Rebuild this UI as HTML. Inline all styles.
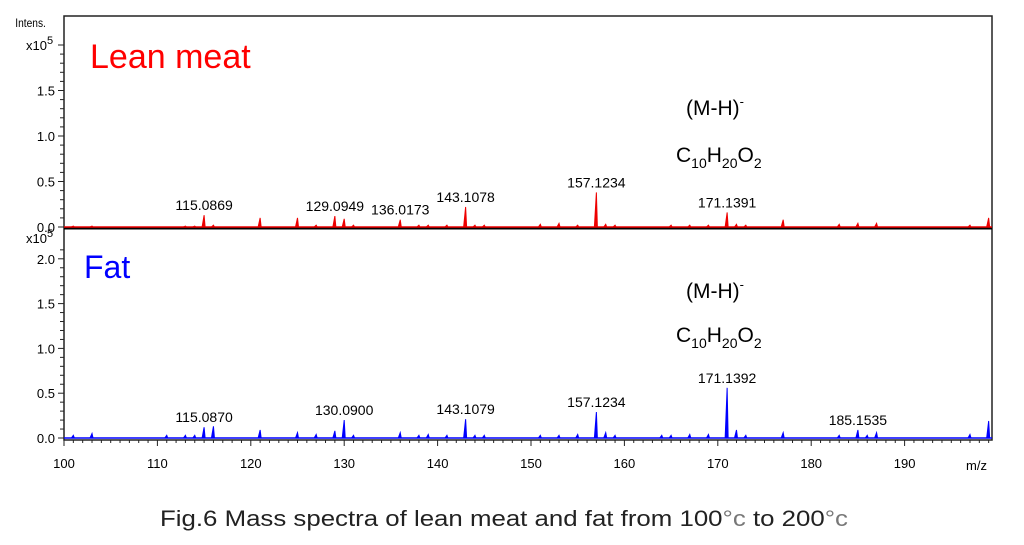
<!DOCTYPE html>
<html><head><meta charset="utf-8"><style>
body{margin:0;background:#fff;width:1024px;height:540px;overflow:hidden}
svg text{font-family:"Liberation Sans",sans-serif}
</style></head><body>
<svg width="1024" height="540">
<g id="frame">
<rect x="64" y="16" width="928" height="424" fill="none" stroke="#222" stroke-width="1.5"/>
<line x1="64" y1="228" x2="992" y2="228" stroke="#000" stroke-width="3"/>
</g>
<g id="axes"></g>
<g id="peaks"></g>
<g id="labels"></g>
<text x="18" y="27" font-size="12" transform="scale(0.85,1)">Intens.</text>
<text x="26" y="50" font-size="13">x10<tspan dy="-6" font-size="11">5</tspan></text>
<text x="26" y="243" font-size="13">x10<tspan dy="-6" font-size="11">5</tspan></text>
<text x="90" y="68" font-size="34" fill="#f00">Lean meat</text>
<text x="84" y="278" font-size="32" fill="#00f">Fat</text>
<text x="686" y="115" font-size="21">(M-H)<tspan dy="-9" font-size="13">-</tspan></text>
<text x="676" y="162" font-size="21">C<tspan dy="6" font-size="14">10</tspan><tspan dy="-6">H</tspan><tspan dy="6" font-size="14">20</tspan><tspan dy="-6">O</tspan><tspan dy="6" font-size="14">2</tspan></text>
<text x="686" y="298" font-size="21">(M-H)<tspan dy="-9" font-size="13">-</tspan></text>
<text x="676" y="342" font-size="21">C<tspan dy="6" font-size="14">10</tspan><tspan dy="-6">H</tspan><tspan dy="6" font-size="14">20</tspan><tspan dy="-6">O</tspan><tspan dy="6" font-size="14">2</tspan></text>
<text x="966" y="470" font-size="13">m/z</text>
<text x="160" y="526" font-size="22" textLength="688" lengthAdjust="spacingAndGlyphs" fill="#222">Fig.6 Mass spectra of lean meat and fat from 100<tspan fill="#777">°c</tspan> to 200<tspan fill="#777">°c</tspan></text>
</svg>
<script>
const xTicks=[100,110,120,130,140,150,160,170,180,190];
const yTicksTop=[0.0,0.5,1.0,1.5];
const yTicksBottom=[0.0,0.5,1.0,1.5,2.0];
const leanMz=[101,103,113,114,115,116,121,125,127,129,130,131,136,138,139,141,143,144,145,151,153,155,157,158,159,165,167,169,171,172,173,177,183,185,187,197,199];
const leanInt=[0.01,0.01,0.01,0.01,0.13,0.02,0.1,0.1,0.02,0.12,0.09,0.02,0.08,0.02,0.02,0.02,0.22,0.02,0.02,0.03,0.04,0.02,0.38,0.03,0.02,0.02,0.02,0.02,0.16,0.03,0.02,0.08,0.03,0.04,0.04,0.02,0.1];
const fatMz=[101,103,111,113,114,115,116,121,125,127,129,130,131,136,138,139,141,143,144,145,151,153,155,157,158,159,164,165,167,169,171,172,173,177,183,185,186,187,197,199];
const fatInt=[0.03,0.05,0.03,0.03,0.03,0.12,0.13,0.09,0.06,0.04,0.08,0.2,0.03,0.06,0.03,0.04,0.03,0.21,0.03,0.03,0.03,0.03,0.04,0.29,0.06,0.03,0.03,0.03,0.04,0.04,0.56,0.09,0.03,0.06,0.03,0.09,0.03,0.06,0.04,0.19];
const leanLabels=[[115,"115.0869"],[129,"129.0949"],[136,"136.0173"],[143,"143.1078"],[157,"157.1234"],[171,"171.1391"]];
const fatLabels=[[115,"115.0870"],[130,"130.0900"],[143,"143.1079"],[157,"157.1234"],[171,"171.1392"],[185,"185.1535"]];
const NS="http://www.w3.org/2000/svg";
const x=m=>64+(m-100)*9.34;
const yTop=v=>227-v*91;
const yBot=v=>438-v*89.6;
function mk(tag,attrs,parent,text){const e=document.createElementNS(NS,tag);for(const k in attrs)e.setAttribute(k,attrs[k]);if(text!==undefined)e.textContent=text;document.getElementById(parent).appendChild(e);return e;}
for(let m=100;m<=199;m++){
  const e=mk('line',{x1:x(m),x2:x(m),y1:440,y2:m%10===0?446:443,stroke:'#222'},'axes');
  
  
}
xTicks.forEach(t=>{const e=mk('text',{x:x(t),y:468,'font-size':13,'text-anchor':'middle'},'axes',t);
  
  });
function yAxis(ticks,yf,lo,hi){
  for(let v=lo;v<=hi+1e-9;v+=0.1){const major=Math.abs(v*2-Math.round(v*2))<1e-6;
    const e=mk('line',{x1:major?58:60,x2:64,y1:yf(v),y2:yf(v),stroke:'#222'},'axes');
    
    }
  ticks.forEach(t=>{const e=mk('text',{x:55,y:yf(t)+5,'font-size':13,'text-anchor':'end'},'axes',t.toFixed(1));
    
    });
}
yAxis(yTicksTop,yTop,0,2.0);
yAxis(yTicksBottom,yBot,0,2.1);
function peaks(mz,inten,yf,color,name){
  mz.forEach((m,i)=>{const px=x(m);
    const e=mk('path',{d:`M${px-2},${yf(0)} L${px},${yf(inten[i])} L${px+1},${yf(0)} Z`,fill:color,stroke:color,'stroke-width':1},'peaks');
    
    });
  const b=mk('line',{x1:64,x2:992,y1:yf(0),y2:yf(0),stroke:color,'stroke-width':1.5},'peaks');
  
  
}
peaks(leanMz,leanInt,yTop,'#e00','lean');
peaks(fatMz,fatInt,yBot,'#00f','fat');
function labels(list,mz,inten,yf,name){
  list.forEach(([m,t])=>{const v=inten[mz.indexOf(m)];
    const e=mk('text',{x:x(m),y:yf(v)-5,'font-size':14,'text-anchor':'middle'},'labels',t);
    
    });
}
labels(leanLabels,leanMz,leanInt,yTop,'lean');
labels(fatLabels,fatMz,fatInt,yBot,'fat');
</script>
</body></html>
